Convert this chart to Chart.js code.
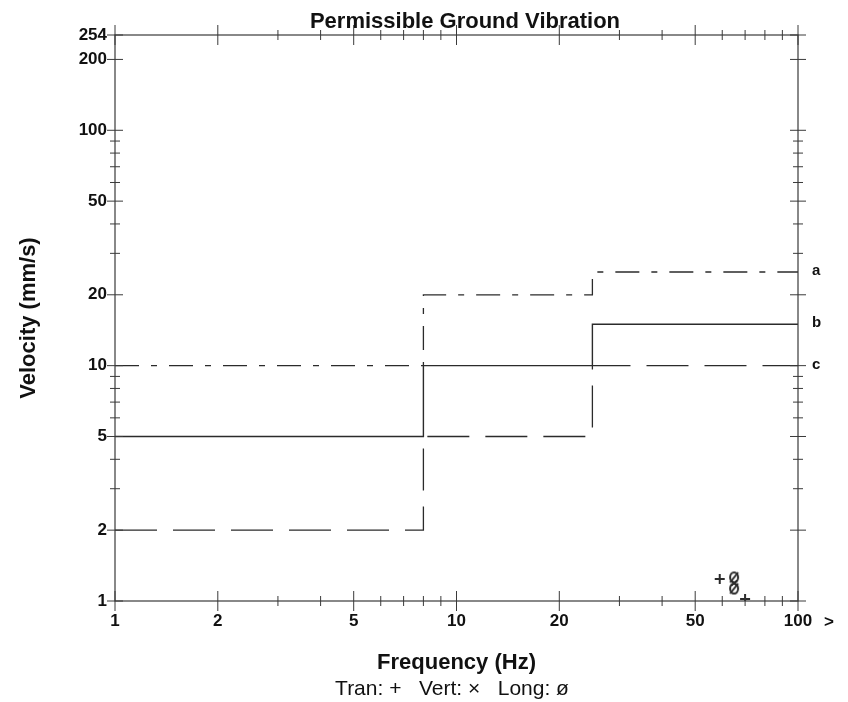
<!DOCTYPE html>
<html>
<head>
<meta charset="utf-8">
<title>Permissible Ground Vibration</title>
<script src="https://cdn.jsdelivr.net/npm/chart.js@4/dist/chart.umd.min.js"></script>
<style>
  html, body { margin: 0; padding: 0; background: #fff; }
  #wrap { width: 848px; height: 702px; position: relative; }
</style>
</head>
<body>
<div id="wrap"><canvas id="vibration-chart"></canvas></div>
<script>
// step frequencies (Hz) and the three limit curves (mm/s)
var stepFreqs = [1, 8, 25, 100];
var curveA = [10, 20, 25, 25];
var curveB = [5, 10, 15, 15];
var curveC = [2, 5, 10, 10];
var curveNames = ['a', 'b', 'c'];

// measured peaks [frequency, velocity]
var tranPeaks = [[59, 1.24], [70, 1.02]];
var vertPeaks = [[65, 1.19]];
var longPeaks = [[65, 1.26], [65, 1.13]];

// axis ticks
var xTicks = [1, 2, 3, 4, 5, 6, 7, 8, 9, 10, 20, 30, 40, 50, 60, 70, 80, 90, 100];
var xLabels = [1, 2, 5, 10, 20, 50, 100];
var yTicks = [1, 2, 3, 4, 5, 6, 7, 8, 9, 10, 20, 30, 40, 50, 60, 70, 80, 90, 100, 200, 254];
var yLabels = [1, 2, 5, 10, 20, 50, 100, 200, 254];

var inkColor = '#2b2b2b';
var fontFamily = '"Liberation Sans", Arial, Helvetica, sans-serif';

var toSteps = function(values) {
  return stepFreqs.map(function(f, i) { return {x: f, y: values[i]}; });
};
var toPoints = function(list) {
  return list.map(function(p) { return {x: p[0], y: p[1]}; });
};

// "ø" marker for the longitudinal channel
var slashedO = document.createElement('canvas');
slashedO.width = 12;
slashedO.height = 14;
(function() {
  var c = slashedO.getContext('2d');
  c.strokeStyle = inkColor;
  c.lineWidth = 2;
  c.beginPath();
  c.ellipse(6, 7, 4, 5, 0, 0, Math.PI * 2);
  c.stroke();
  c.beginPath();
  c.moveTo(2, 12);
  c.lineTo(10, 2);
  c.stroke();
})();

var frameAndTicks = {
  id: 'frameAndTicks',
  afterDatasetsDraw: function(chart) {
    var ctx = chart.ctx;
    var area = chart.chartArea;
    var x = chart.scales.x;
    var y = chart.scales.y;
    var seg = function(x1, y1, x2, y2) {
      ctx.beginPath();
      ctx.moveTo(x1, y1);
      ctx.lineTo(x2, y2);
      ctx.stroke();
    };
    ctx.save();
    ctx.strokeStyle = '#3a3a3a';
    ctx.lineWidth = 1.2;
    ctx.strokeRect(area.left, area.top, area.right - area.left, area.bottom - area.top);
    ctx.lineWidth = 1;
    xTicks.forEach(function(v) {
      var px = x.getPixelForValue(v);
      var len = xLabels.indexOf(v) >= 0 ? 10 : 5;
      seg(px, area.bottom - len, px, area.bottom + len);
      seg(px, area.top - len, px, area.top + len);
    });
    yTicks.forEach(function(v) {
      var py = y.getPixelForValue(v);
      var len = yLabels.indexOf(v) >= 0 ? 8 : 5;
      seg(area.left - len, py, area.left + len, py);
      seg(area.right - len, py, area.right + len, py);
    });

    // curve names at the right edge
    ctx.fillStyle = '#111';
    ctx.font = 'bold 15px ' + fontFamily;
    ctx.textBaseline = 'middle';
    ctx.textAlign = 'left';
    [curveA, curveB, curveC].forEach(function(values, i) {
      var py = y.getPixelForValue(values[values.length - 1]);
      ctx.fillText(curveNames[i], area.right + 14, py - 1);
    });

    // title
    ctx.font = 'bold 22px ' + fontFamily;
    ctx.textAlign = 'center';
    ctx.textBaseline = 'alphabetic';
    ctx.fillText('Permissible Ground Vibration', 465, 28);

    // ">" past 100 Hz
    ctx.font = 'bold 17px ' + fontFamily;
    ctx.textAlign = 'left';
    ctx.textBaseline = 'middle';
    ctx.fillText('>', area.right + 26, 622);

    // channel key
    ctx.font = '21px ' + fontFamily;
    ctx.textAlign = 'center';
    ctx.fillText('Tran: +   Vert: \u00d7   Long: \u00f8', 452, 689);
    ctx.restore();
  }
};

var lineSet = function(values, dash, width) {
  return {
    data: toSteps(values),
    showLine: true,
    stepped: 'before',
    borderColor: inkColor,
    borderWidth: width,
    borderDash: dash,
    pointRadius: 0,
    fill: false
  };
};

var vibrationChart = new Chart(document.getElementById('vibration-chart'), {
  type: 'scatter',
  data: {
    datasets: [
      lineSet(curveA, [24, 12, 6, 12], 1.3),
      lineSet(curveB, [], 1.4),
      lineSet(curveC, [42, 16], 1.3),
      {
        label: 'Tran',
        data: toPoints(tranPeaks),
        pointStyle: 'cross',
        pointRadius: 5,
        borderWidth: 2,
        borderColor: inkColor
      },
      {
        label: 'Vert',
        data: toPoints(vertPeaks),
        pointStyle: 'crossRot',
        pointRadius: 4,
        borderWidth: 1.5,
        borderColor: inkColor
      },
      {
        label: 'Long',
        data: toPoints(longPeaks),
        pointStyle: slashedO,
        pointRadius: 6
      }
    ]
  },
  options: {
    responsive: true,
    maintainAspectRatio: false,
    animation: false,
    devicePixelRatio: 1,
    layout: {padding: {top: 35, right: 50, left: 0, bottom: 0}},
    plugins: {
      legend: {display: false},
      tooltip: {enabled: false}
    },
    scales: {
      x: {
        type: 'logarithmic',
        min: 1,
        max: 100,
        afterBuildTicks: function(scale) {
          scale.ticks = xTicks.map(function(v) { return {value: v}; });
        },
        afterFit: function(scale) { scale.height = 101; },
        grid: {display: false, drawTicks: false},
        border: {display: false},
        ticks: {
          autoSkip: false,
          maxRotation: 0,
          padding: 10,
          color: '#111',
          font: {family: fontFamily, size: 17, weight: 'bold'},
          callback: function(value) {
            return xLabels.indexOf(value) >= 0 ? String(value) : '';
          }
        },
        title: {
          display: true,
          text: 'Frequency (Hz)',
          color: '#111',
          font: {family: fontFamily, size: 22, weight: 'bold'},
          padding: {top: 0, bottom: 26}
        }
      },
      y: {
        type: 'logarithmic',
        min: 1,
        max: 254,
        afterBuildTicks: function(scale) {
          scale.ticks = yTicks.map(function(v) { return {value: v}; });
        },
        afterFit: function(scale) { scale.width = 115; },
        grid: {display: false, drawTicks: false},
        border: {display: false},
        ticks: {
          autoSkip: false,
          padding: 8,
          color: '#111',
          font: {family: fontFamily, size: 17, weight: 'bold'},
          callback: function(value) {
            return yLabels.indexOf(value) >= 0 ? String(value) : '';
          }
        },
        title: {
          display: true,
          text: 'Velocity (mm/s)',
          color: '#111',
          font: {family: fontFamily, size: 22, weight: 'bold'},
          padding: {top: 16, bottom: 0}
        }
      }
    }
  },
  plugins: [frameAndTicks]
});
</script>
</body>
</html>
